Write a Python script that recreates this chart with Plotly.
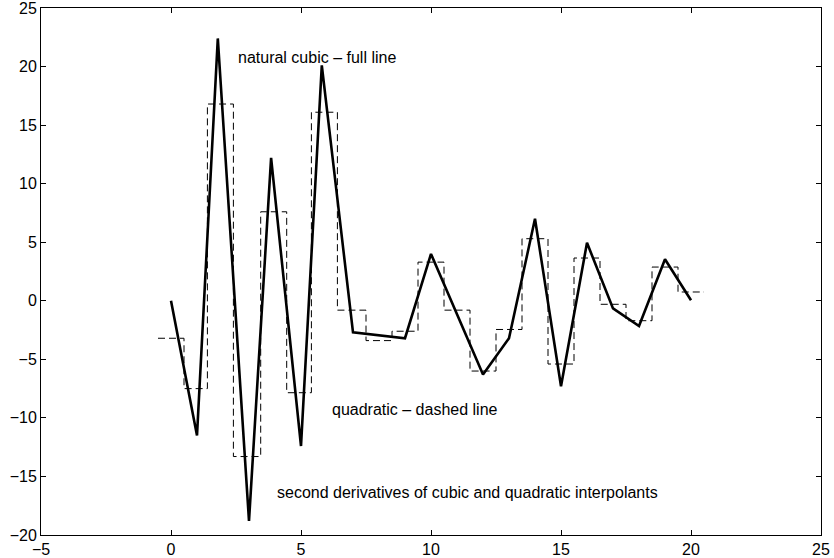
import plotly.graph_objects as go

# natural cubic spline second derivative (piecewise linear)
cubic_x = [0, 1, 1.8, 3, 3.85, 5, 5.8, 7, 9, 10, 12, 13, 14, 15, 16, 17, 18, 19, 20]
cubic_y = [0, -11.5, 22.4, -18.8, 12.2, -12.4, 20.1, -2.7, -3.2, 4.0, -6.3, -3.2, 7.0, -7.3, 4.95, -0.65, -2.15, 3.55, 0.05]

# quadratic spline second derivative (piecewise constant)
quad_edges = [-0.5, 0.5, 1.4, 2.4, 3.45, 4.45, 5.4, 6.4, 7.5, 8.5, 9.5, 10.5,
              11.5, 12.5, 13.5, 14.5, 15.5, 16.5, 17.5, 18.5, 19.5, 20.5]
quad_vals = [-3.2, -7.5, 16.8, -13.3, 7.6, -7.85, 16.1, -0.8, -3.4, -2.6, 3.3,
             -0.8, -6.0, -2.45, 5.3, -5.4, 3.65, -0.3, -1.7, 2.88, 0.75]

x_ticks = [-5, 0, 5, 10, 15, 20, 25]
y_ticks = [-20, -15, -10, -5, 0, 5, 10, 15, 20, 25]

fig = go.Figure()
fig.add_trace(go.Scatter(
    x=quad_edges, y=quad_vals + [quad_vals[-1]], mode="lines",
    line=dict(color="black", width=1, dash="7px,4px", shape="hv"),
    hoverinfo="skip"))
fig.add_trace(go.Scatter(
    x=cubic_x, y=cubic_y, mode="lines",
    line=dict(color="black", width=2.6), hoverinfo="skip"))

annots = [
    (2.5, 20.8, "natural cubic \u2013 full line"),
    (6.1, -9.3, "quadratic \u2013 dashed line"),
    (4.0, -16.4, "second derivatives of cubic and quadratic interpolants"),
]
for ax_, ay_, txt in annots:
    fig.add_annotation(x=ax_, y=ay_, text=txt, showarrow=False, xanchor="left",
                       yanchor="middle", font=dict(size=16, color="black",
                                                   family="Liberation Sans, Arial"))

axis_common = dict(showgrid=False, zeroline=False, showline=True, linecolor="black",
                   linewidth=1, mirror="ticks", ticks="inside", ticklen=5,
                   tickcolor="black", automargin=False, ticklabeloverflow="allow",
                   tickfont=dict(size=16, color="black", family="Liberation Sans, Arial"))
fig.update_xaxes(range=[-5, 25], tickvals=x_ticks,
                 ticktext=[str(v).replace("-", "\u2212") for v in x_ticks], **axis_common)
fig.update_yaxes(range=[-20, 25], tickvals=y_ticks,
                 ticktext=[str(v).replace("-", "\u2212") for v in y_ticks], **axis_common)

fig.update_layout(width=834, height=558, autosize=False, showlegend=False,
                  plot_bgcolor="white", paper_bgcolor="white",
                  margin=dict(l=41, r=13, t=8, b=23, pad=0))
fig.write_html("out.html", config={"displayModeBar": False},
               post_script="document.body.style.margin='0';document.body.style.overflow='hidden';")
